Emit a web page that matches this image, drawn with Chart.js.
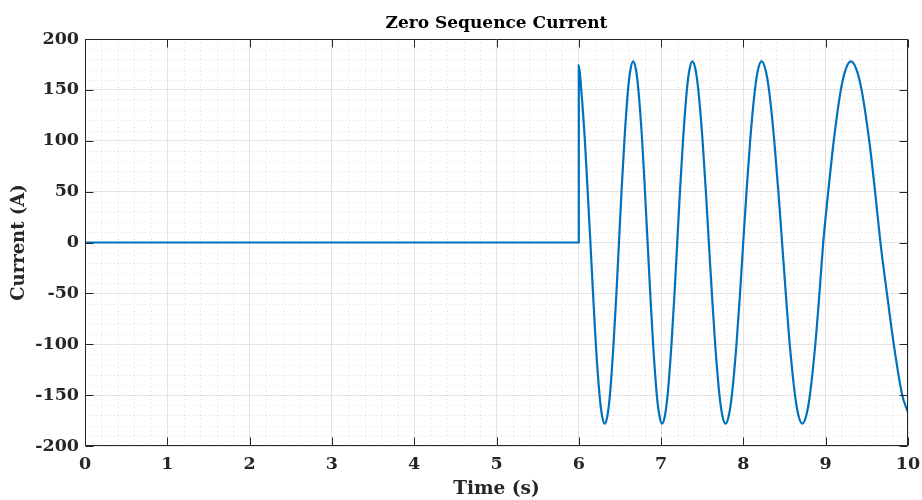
<!DOCTYPE html>
<html>
<head>
<meta charset="utf-8">
<script src="https://cdn.jsdelivr.net/npm/chart.js@4/dist/chart.umd.min.js"></script>
<style>
  html, body { margin: 0; padding: 0; background: #ffffff; }
  #wrap { width: 922px; height: 500px; }
</style>
</head>
<body>
<div id="wrap"><canvas id="c" width="922" height="500"></canvas></div>
<script>
// Labels
const titleText = 'Zero Sequence Current';
const xLabel = 'Time (s)';
const yLabel = 'Current (A)';

// Axis ticks
const xTickValues = [0, 1, 2, 3, 4, 5, 6, 7, 8, 9, 10];
const yTickValues = [-200, -150, -100, -50, 0, 50, 100, 150, 200];

// Measured zero-sequence current: idle until the fault at t = 6 s
const time = [
  0, 6.000, 6.000, 6.030, 6.074, 6.108, 6.141, 6.173, 6.207, 6.252, 6.282,
  6.315, 6.348, 6.378, 6.422, 6.457, 6.488, 6.519, 6.554, 6.598, 6.628,
  6.661, 6.694, 6.724, 6.770, 6.804, 6.836, 6.868, 6.903, 6.948, 6.979,
  7.012, 7.047, 7.079, 7.126, 7.163, 7.196, 7.229, 7.266, 7.313, 7.345,
  7.380, 7.418, 7.452, 7.504, 7.544, 7.580, 7.617, 7.657, 7.709, 7.744,
  7.782, 7.823, 7.860, 7.916, 7.959, 7.998, 8.038, 8.082, 8.140, 8.178,
  8.220, 8.268, 8.311, 8.375, 8.425, 8.470, 8.515, 8.563, 8.627, 8.669,
  8.716, 8.764, 8.808, 8.874, 8.924, 8.970, 9.031, 9.098, 9.184, 9.242,
  9.306, 9.374, 9.436, 9.529, 9.600, 9.665, 9.744, 9.827, 9.930, 10.000
];
const current = [
  0, 0, 174, 150, 100, 50, 0, -50, -100, -150, -170,
  -178, -170, -150, -100, -50, 0, 50, 100, 150, 170,
  178, 170, 150, 100, 50, 0, -50, -100, -150, -170,
  -178, -170, -150, -100, -50, 0, 50, 100, 150, 170,
  178, 170, 150, 100, 50, 0, -50, -100, -150, -170,
  -178, -170, -150, -100, -50, 0, 50, 100, 150, 170,
  178, 170, 150, 100, 50, 0, -50, -100, -150, -170,
  -178, -170, -150, -100, -50, 0, 50, 100, 150, 170,
  178, 170, 150, 100, 50, 0, -50, -100, -150, -167
];

const FONT_FAMILY = '"DejaVu Serif", "Liberation Serif", serif';
const AXIS_COLOR = '#262626';
const TICK_LEN = 8;

// Dotted minor grid underneath the data, boxed axes with inward ticks on top
const axesFrame = {
  id: 'axesFrame',
  afterLayout(chart) {
    // centre the title over the plotting area
    if (chart.titleBlock) {
      chart.titleBlock.left = chart.chartArea.left;
      chart.titleBlock.right = chart.chartArea.right;
    }
  },
  beforeDatasetsDraw(chart) {
    const { ctx, chartArea: a, scales: { x, y } } = chart;
    ctx.save();
    ctx.strokeStyle = 'rgba(0,0,0,0.12)';
    ctx.lineWidth = 1;
    ctx.setLineDash([1, 3]);
    ctx.beginPath();
    const xSteps = Math.round((x.max - x.min) / 0.2);
    for (let i = 1; i < xSteps; i++) {
      if (i % 5 === 0) continue;
      const px = Math.round(x.getPixelForValue(x.min + i * 0.2)) + 0.5;
      ctx.moveTo(px, a.top);
      ctx.lineTo(px, a.bottom);
    }
    const ySteps = Math.round((y.max - y.min) / 10);
    for (let i = 1; i < ySteps; i++) {
      if (i % 5 === 0) continue;
      const py = Math.round(y.getPixelForValue(y.min + i * 10)) + 0.5;
      ctx.moveTo(a.left, py);
      ctx.lineTo(a.right, py);
    }
    ctx.stroke();
    ctx.restore();
  },
  afterDatasetsDraw(chart) {
    const { ctx, chartArea: a, scales: { x, y } } = chart;
    ctx.save();
    ctx.strokeStyle = AXIS_COLOR;
    ctx.lineWidth = 1;
    ctx.setLineDash([]);
    const L = Math.round(a.left) + 0.5, R = Math.round(a.right) - 0.5;
    const T = Math.round(a.top) + 0.5, B = Math.round(a.bottom) - 0.5;
    ctx.beginPath();
    ctx.rect(L, T, R - L, B - T);
    xTickValues.forEach(v => {
      const px = Math.round(x.getPixelForValue(v)) + 0.5;
      ctx.moveTo(px, B); ctx.lineTo(px, B - TICK_LEN);
      ctx.moveTo(px, T); ctx.lineTo(px, T + TICK_LEN);
    });
    yTickValues.forEach(v => {
      const py = Math.round(y.getPixelForValue(v)) + 0.5;
      ctx.moveTo(L, py); ctx.lineTo(L + TICK_LEN, py);
      ctx.moveTo(R, py); ctx.lineTo(R - TICK_LEN, py);
    });
    ctx.stroke();
    ctx.restore();
  }
};

new Chart(document.getElementById('c'), {
  type: 'line',
  data: {
    datasets: [{
      data: time.map((t, i) => ({ x: t, y: current[i] })),
      borderColor: '#0072BD',
      borderWidth: 2.2,
      pointRadius: 0,
      fill: false,
      cubicInterpolationMode: 'monotone'
    }]
  },
  options: {
    responsive: false,
    devicePixelRatio: 1,
    animation: false,
    layout: { padding: { left: 0, right: 14, top: 0, bottom: 0 } },
    plugins: {
      legend: { display: false },
      tooltip: { enabled: false },
      title: {
        display: true,
        text: titleText,
        color: '#000000',
        font: { family: FONT_FAMILY, size: 17, weight: 'bold', lineHeight: 1.2 },
        padding: { top: 13, bottom: 5.6 }
      }
    },
    scales: {
      x: {
        type: 'linear',
        min: xTickValues[0],
        max: xTickValues[xTickValues.length - 1],
        afterBuildTicks(scale) { scale.ticks = xTickValues.map(v => ({ value: v })); },
        afterFit(scale) {
          scale.height = 54;
          scale.paddingLeft = 0;
          scale.paddingRight = 0;
        },
        grid: { color: '#e4e4e4', lineWidth: 1, drawTicks: false },
        border: { display: false },
        ticks: {
          color: AXIS_COLOR,
          padding: 7.5,
          maxRotation: 0,
          font: { family: FONT_FAMILY, size: 17.5, weight: 'bold', lineHeight: 1.2 }
        },
        title: {
          display: true,
          text: xLabel,
          color: AXIS_COLOR,
          font: { family: FONT_FAMILY, size: 18.5, weight: 'bold', lineHeight: 1.2 },
          padding: { top: 0, bottom: 0 }
        }
      },
      y: {
        type: 'linear',
        min: yTickValues[0],
        max: yTickValues[yTickValues.length - 1],
        afterBuildTicks(scale) { scale.ticks = yTickValues.map(v => ({ value: v })); },
        afterFit(scale) {
          scale.width = 85;
          scale.paddingTop = 0;
          scale.paddingBottom = 0;
        },
        grid: { color: '#e4e4e4', lineWidth: 1, drawTicks: false },
        border: { display: false },
        ticks: {
          color: AXIS_COLOR,
          padding: 6,
          font: { family: FONT_FAMILY, size: 17.5, weight: 'bold', lineHeight: 1.2 }
        },
        title: {
          display: true,
          text: yLabel,
          color: AXIS_COLOR,
          font: { family: FONT_FAMILY, size: 18, weight: 'bold', lineHeight: 1.2 },
          padding: { top: 9, bottom: 0 }
        }
      }
    }
  },
  plugins: [axesFrame]
});
</script>
</body>
</html>
